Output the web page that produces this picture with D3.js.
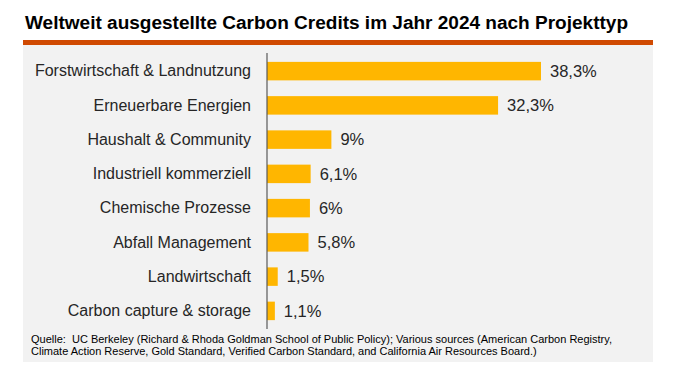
<!DOCTYPE html>
<html>
<head>
<meta charset="utf-8">
<script src="https://cdn.jsdelivr.net/npm/d3@7"></script>
<style>
    html, body { margin: 0; padding: 0; background: #ffffff; }
    svg { display: block; font-family: "Liberation Sans", Arial, sans-serif; }
</style>
</head>
<body>
<div id="chart"></div>
<script>
// data
const categories = [
    "Forstwirtschaft & Landnutzung",
    "Erneuerbare Energien",
    "Haushalt & Community",
    "Industriell kommerziell",
    "Chemische Prozesse",
    "Abfall Management",
    "Landwirtschaft",
    "Carbon capture & storage"
];
const shares = [38.3, 32.3, 9, 6.1, 6, 5.8, 1.5, 1.1];
const valueLabels = ["38,3%", "32,3%", "9%", "6,1%", "6%", "5,8%", "1,5%", "1,1%"];

const titleText = "Weltweit ausgestellte Carbon Credits im Jahr 2024 nach Projekttyp";
const sourceLines = [
    "Quelle:  UC Berkeley (Richard & Rhoda Goldman School of Public Policy); Various sources (American Carbon Registry,",
    "Climate Action Reserve, Gold Standard, Verified Carbon Standard, and California Air Resources Board.)"
];

const width = 681, height = 372;
const textColor = "#262626";

const svg = d3.select("#chart").append("svg")
    .attr("width", width)
    .attr("height", height);

// title
svg.append("text")
    .attr("x", 25)
    .attr("y", 29)
    .attr("font-size", 17.5)
    .attr("font-weight", "bold")
    .attr("fill", "#000")
    .attr("textLength", 603)
    .attr("lengthAdjust", "spacingAndGlyphs")
    .text(titleText);

// orange rule + grey panel
svg.append("rect")
    .attr("x", 23).attr("y", 40)
    .attr("width", 630).attr("height", 5)
    .attr("fill", "#d04a02");

svg.append("rect")
    .attr("x", 23).attr("y", 45)
    .attr("width", 630).attr("height", 317)
    .attr("fill", "#f2f2f2");

const axisX = 267;

const x = d3.scaleLinear()
    .domain([0, 38.3])
    .range([axisX, 541]);

const y = d3.scaleBand()
    .domain(categories)
    .range([54, 328])
    .paddingInner(0.46)
    .paddingOuter(0.23);

const g = svg.append("g");

g.selectAll(".bar")
    .data(shares)
    .enter().append("rect")
    .attr("class", "bar")
    .attr("x", x(0))
    .attr("y", (d, i) => y(categories[i]))
    .attr("width", d => x(d) - x(0))
    .attr("height", y.bandwidth())
    .attr("fill", "#ffb600");

g.selectAll(".value")
    .data(shares)
    .enter().append("text")
    .attr("class", "value")
    .attr("x", d => x(d) + 9)
    .attr("y", (d, i) => y(categories[i]) + y.bandwidth() / 2)
    .attr("dy", "0.35em")
    .attr("font-size", 16.5)
    .attr("fill", textColor)
    .text((d, i) => valueLabels[i]);

// category axis
const yAxis = d3.axisLeft(y).tickSize(0).tickPadding(16);

const axisG = svg.append("g")
    .attr("transform", "translate(" + axisX + ",0)")
    .call(yAxis);

axisG.select(".domain").remove();
axisG.selectAll("text")
    .attr("font-size", 16)
    .attr("fill", textColor)
    .attr("font-family", "Liberation Sans, Arial, sans-serif");

svg.append("line")
    .attr("x1", axisX).attr("x2", axisX)
    .attr("y1", 53).attr("y2", 329)
    .attr("stroke", "#595959")
    .attr("stroke-width", 1.2);

// source note
svg.append("g").selectAll("text")
    .data(sourceLines)
    .enter().append("text")
    .attr("x", 31)
    .attr("y", (d, i) => 343 + i * 11.5)
    .attr("font-size", 11)
    .attr("fill", "#000")
    .style("white-space", "pre")
    .text(d => d);
</script>
</body>
</html>
